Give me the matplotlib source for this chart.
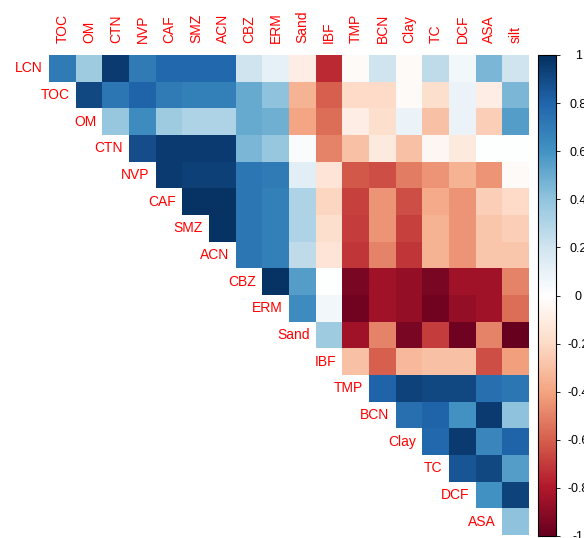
import numpy as np
import matplotlib
matplotlib.use("Agg")
import matplotlib.pyplot as plt
from matplotlib.colors import LinearSegmentedColormap

variables = ["LCN", "TOC", "OM", "CTN", "NVP", "CAF", "SMZ", "ACN", "CBZ", "ERM",
             "Sand", "IBF", "TMP", "BCN", "Clay", "TC", "DCF", "ASA", "silt"]

# upper-triangle correlations: row i holds correlations with variables i+1 .. end
r_LCN = [0.70, 0.35, 0.95, 0.70, 0.78, 0.78, 0.78, 0.20, 0.10, -0.10, -0.75, -0.03, 0.20, -0.03, 0.25, 0.05, 0.45, 0.20]
r_TOC = [0.90, 0.72, 0.80, 0.70, 0.68, 0.68, 0.50, 0.40, -0.35, -0.60, -0.20, -0.20, -0.03, -0.18, 0.08, -0.10, 0.45]
r_OM = [0.38, 0.62, 0.35, 0.30, 0.30, 0.50, 0.48, -0.40, -0.55, -0.10, -0.18, 0.08, -0.30, 0.08, -0.25, 0.55]
r_CTN = [0.88, 0.95, 0.95, 0.95, 0.45, 0.38, 0.02, -0.50, -0.30, -0.12, -0.30, -0.05, -0.12, 0.00, 0.00]
r_NVP = [0.95, 0.93, 0.93, 0.72, 0.70, 0.12, -0.15, -0.62, -0.65, -0.52, -0.45, -0.35, -0.45, -0.03]
r_CAF = [0.98, 0.98, 0.72, 0.68, 0.30, -0.22, -0.68, -0.45, -0.65, -0.38, -0.45, -0.25, -0.20]
r_SMZ = [0.98, 0.72, 0.68, 0.30, -0.18, -0.70, -0.45, -0.68, -0.35, -0.45, -0.28, -0.25]
r_ACN = [0.72, 0.68, 0.25, -0.15, -0.72, -0.50, -0.72, -0.35, -0.45, -0.28, -0.28]
r_CBZ = [0.98, 0.55, 0.00, -0.95, -0.85, -0.88, -0.95, -0.85, -0.85, -0.50]
r_ERM = [0.62, 0.05, -0.97, -0.85, -0.88, -0.97, -0.88, -0.85, -0.55]
r_Sand = [0.35, -0.85, -0.50, -0.95, -0.70, -0.98, -0.50, -1.00]
r_IBF = [-0.30, -0.60, -0.33, -0.30, -0.30, -0.65, -0.42]
r_TMP = [0.80, 0.92, 0.90, 0.90, 0.75, 0.72]
r_BCN = [0.75, 0.80, 0.60, 0.95, 0.40]
r_Clay = [0.78, 0.95, 0.65, 0.80]
r_TC = [0.85, 0.90, 0.55]
r_DCF = [0.60, 0.92]
r_ASA = [0.40]

rows = [r_LCN, r_TOC, r_OM, r_CTN, r_NVP, r_CAF, r_SMZ, r_ACN, r_CBZ, r_ERM,
        r_Sand, r_IBF, r_TMP, r_BCN, r_Clay, r_TC, r_DCF, r_ASA]

n = len(variables)
row_names = variables[:-1]
col_names = variables[1:]
m = n - 1
grid = np.full((m, m), np.nan)
for i, vals in enumerate(rows):
    for k, v in enumerate(vals):
        grid[i, i + k] = v

cmap = LinearSegmentedColormap.from_list(
    "corrRdBu",
    ["#67001F", "#B2182B", "#D6604D", "#F4A582", "#FDDBC7", "#FFFFFF",
     "#D1E5F0", "#92C5DE", "#4393C3", "#2166AC", "#053061"], N=200)

W, H = 584, 538
fig = plt.figure(figsize=(W / 100, H / 100), dpi=100)
ax = fig.add_axes([49.3 / W, 1 - 535 / H, 479.7 / W, 480 / H])
im = ax.imshow(np.ma.masked_invalid(grid), cmap=cmap, vmin=-1, vmax=1,
               extent=(-0.5, m - 0.5, m - 0.5, -0.5), aspect="auto",
               interpolation="nearest")
ax.set_xlim(-0.5, m - 0.5)
ax.set_ylim(m - 0.5, -0.5)
ax.axis("off")

lab_font = dict(color="red", fontsize=10, family=["Liberation Sans", "DejaVu Sans"])
for i, name in enumerate(row_names):
    ax.text(i - 0.5 - 0.24, i, name, ha="right", va="center", clip_on=False, **lab_font)
for c, name in enumerate(col_names):
    ax.text(c, -0.5 - 0.44, name, ha="center", va="bottom", rotation=90,
            clip_on=False, **lab_font)

cax = fig.add_axes([538.3 / W, 1 - 536 / H, 17.7 / W, 481 / H])
cb = fig.colorbar(im, cax=cax)
ticks = [1, 0.8, 0.6, 0.4, 0.2, 0, -0.2, -0.4, -0.6, -0.8, -1]
cb.set_ticks(ticks)
cb.set_ticklabels(["1", "0.8", "0.6", "0.4", "0.2", "0", "-0.2", "-0.4", "-0.6", "-0.8", "-1"])
cb.outline.set_edgecolor("black")
cb.outline.set_linewidth(0.8)
cax.tick_params(axis="y", length=3, width=0.6, pad=13, labelsize=9)
for t in cax.get_yticklabels():
    t.set_ha("center")
    t.set_family(["Liberation Sans", "DejaVu Sans"])

fig.savefig("out.png", dpi=100)
